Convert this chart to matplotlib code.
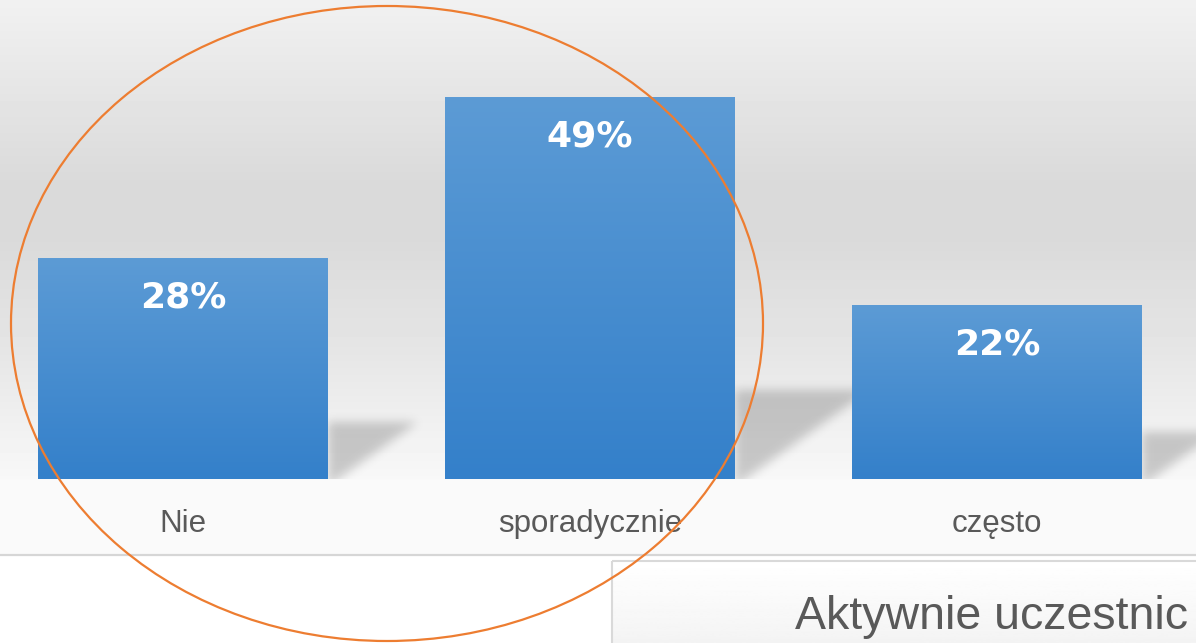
import matplotlib
matplotlib.use("Agg")
import matplotlib.pyplot as plt
import numpy as np
from matplotlib.colors import LinearSegmentedColormap
from matplotlib.patches import Ellipse, Rectangle

categories = ["Nie", "sporadycznie", "często"]
values = [28.4, 49.2, 22.4]
value_labels = ["28%", "49%", "22%"]
box_title = "Aktywnie uczestnic"

W, H = 1196, 643
PX_X = 407.0   # pixels per category
PX_Y = 7.75    # pixels per percent
BASE = 479     # baseline, pixels from top

fig = plt.figure(figsize=(W / 100, H / 100), dpi=100)

# background layer in pixel coordinates
bg = fig.add_axes([0, 0, 1, 1])
bg.axis("off")
ys = np.arange(H)
stops_y = [0, 180, 240, 350, 420, 478, 480, 555, 556, 643]
stops_v = [0.945, 0.855, 0.855, 0.90, 0.94, 0.97, 0.98, 0.98, 1.0, 1.0]
grad = np.interp(ys, stops_y, stops_v).reshape(-1, 1)
bg.imshow(grad, extent=[0, W, H, 0], cmap="gray", vmin=0, vmax=1, aspect="auto")
bg.plot([0, W], [555, 555], color="#d6d6d6", lw=1.6)
box_grad = np.linspace(1.0, 0.955, 50).reshape(-1, 1)
bg.imshow(box_grad, extent=[612, W, H, 561], cmap="gray", vmin=0, vmax=1, aspect="auto")
bg.add_patch(Rectangle((612, 561), 700, 100, fill=False, edgecolor="#d9d9d9", lw=1.5))
bg.set_xlim(0, W)
bg.set_ylim(H, 0)

# chart layer
ax = fig.add_axes([0, 0, 1, 1])
ax.patch.set_alpha(0)
ax.axis("off")
x = np.arange(len(categories))
bars = ax.bar(x, values, width=290 / PX_X, color="none", zorder=2)

bar_cmap = LinearSegmentedColormap.from_list("bar", ["#3480ca", "#5c9bd5"])
g = np.linspace(0, 1, 200).reshape(-1, 1)


def blur(a, sigma):
    r = int(3 * sigma)
    k = np.exp(-0.5 * (np.arange(-r, r + 1) / sigma) ** 2)
    k /= k.sum()
    a = np.array([np.convolve(row, k, mode="same") for row in a])
    a = np.array([np.convolve(col, k, mode="same") for col in a.T]).T
    return a


for b in bars:
    x0, w, h = b.get_x(), b.get_width(), b.get_height()
    ax.imshow(g, extent=[x0, x0 + w, 0, h], origin="lower", cmap=bar_cmap,
              aspect="auto", zorder=2)
    # perspective shadow to the right of the bar
    hp = h * PX_Y
    S = 0.2 * hp + 12
    Wd, Hd = 1.6 * S + 20, 1.2 * S + 10
    xx, yy = np.meshgrid(np.arange(0, Wd), np.arange(-20, Hd))
    mask = ((yy <= S) & (xx <= 1.4 * yy + 10)).astype(float)
    mask = blur(mask, 5)[20:]
    rgba = np.zeros(mask.shape + (4,))
    rgba[..., 3] = 0.19 * mask
    ax.imshow(rgba, extent=[x0 + w, x0 + w + Wd / PX_X, 0, mask.shape[0] / PX_Y],
              origin="lower", aspect="auto", zorder=1.5, interpolation="bilinear")

for i, (v, lab) in enumerate(zip(values, value_labels)):
    ax.text(i, v - 49 / PX_Y, lab, ha="center", va="baseline", color="white",
            fontsize=26, fontweight="bold", family="DejaVu Sans", zorder=3)
    ax.text(i, -53 / PX_Y, categories[i], ha="center", va="baseline", color="#595959",
            fontsize=22.5, family="Liberation Sans", zorder=3)

ax.set_xlim(-183 / PX_X, (W - 183) / PX_X)
ax.set_ylim(-(H - BASE) / PX_Y, BASE / PX_Y)

# highlight ellipse and cut-off box title on top
fig.add_artist(Ellipse((387, 323.5), 752, 635, transform=bg.transData, fill=False,
                       edgecolor="#ed7d31", lw=1.6, zorder=10))
fig.text(795, 629, box_title, transform=bg.transData, ha="left", va="baseline",
         color="#595959", fontsize=33.5, family="Liberation Sans", zorder=10)

fig.savefig("out.png", dpi=100)
